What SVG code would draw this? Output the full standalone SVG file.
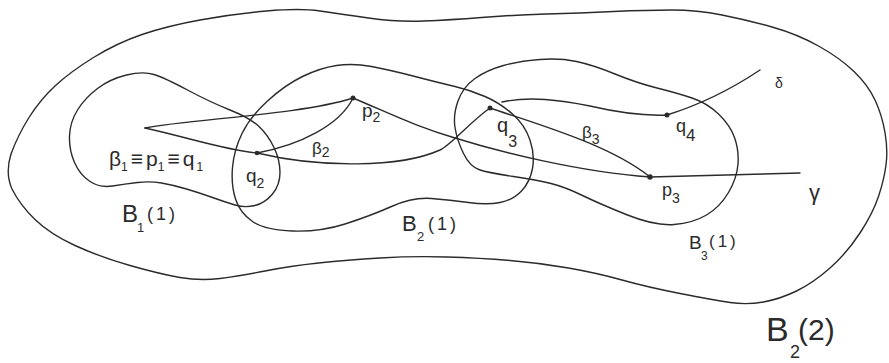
<svg xmlns="http://www.w3.org/2000/svg" width="889" height="363" viewBox="0 0 889 363">
<style>
.c{fill:none;stroke:#2b2b2b;stroke-width:1.4;stroke-linejoin:round;stroke-linecap:round}
.t{font-family:"Liberation Sans",Arial,sans-serif;fill:#2b2b2b}
.d{fill:#2b2b2b}
</style>
<rect width="889" height="363" fill="#ffffff"/>
<g id="B2_2">
<path class="c" d="M12,189 Q5,173 11,154 Q18,135 29,117.5 Q40,100 55,86 Q70,72 93.5,57.5 Q117,43 142,34.5 Q167,26 200,20 Q233,14 266.5,11 Q300,8 320,11 Q340,14 368.5,18 Q397,22 423.5,21 Q450,20 481.5,17.5 Q513,15 546.5,14 Q580,13 613.5,11.5 Q647,10 672,10 Q697,10 722,15 Q747,20 772,27 Q797,34 818.5,46 Q840,58 854,71.5 Q868,85 875,100 Q882,115 885,132.5 Q888,150 886,165 Q884,180 878.5,196.5 Q873,213 860,233 Q847,253 830,268 Q813,283 796.5,291 Q780,299 763.5,302 Q747,305 730,302.5 Q713,300 680,293.5 Q647,287 622,280 Q597,273 568.5,268 Q540,263 510,260.5 Q480,258 446.5,257 Q413,256 380,258 Q347,260 318.5,263 Q290,266 265,271 Q240,276 220,278.5 Q200,281 180,277.5 Q160,274 130,265.5 Q100,257 75,245.5 Q50,234 35,219.5 Q20,205 12,189 Z"/>
<text class="t" x="766" y="341" font-size="34">B</text>
<text class="t" x="790" y="358" font-size="18">2</text>
<text class="t" x="798" y="340" font-size="30">(2)</text>
</g>
<g id="B1_1">
<path class="c" d="M126.5,75 Q143,71 154,74.5 Q165,78 187.5,90 Q210,102 230,110 Q250,118 259,126.5 Q268,135 274,147.5 Q280,160 280,172.5 Q280,185 272.5,194 Q265,203 255,205.5 Q245,208 235,205 Q225,202 212.5,197.5 Q200,193 186.5,189 Q173,185 161.5,183 Q150,181 137.5,182.5 Q125,184 112.5,186 Q100,188 90,181.5 Q80,175 74.5,162.5 Q69,150 69.5,136 Q70,122 77.5,110 Q85,98 97.5,88.5 Q110,79 126.5,75 Z"/>
<text class="t" x="122" y="222" font-size="24">B</text>
<text class="t" x="137" y="232" font-size="13">1</text>
<text class="t" x="147" y="220" font-size="18" letter-spacing="3">(1)</text>
</g>
<g id="B2_1">
<path class="c" d="M336.5,65.5 Q353,63 371.5,66.5 Q390,70 415,76.5 Q440,83 455,86.5 Q470,90 485,96.5 Q500,103 512.5,114 Q525,125 530,140 Q535,155 532.5,168.5 Q530,182 521.5,191 Q513,200 500,202.5 Q487,205 468.5,202.5 Q450,200 431.5,198.5 Q413,197 391.5,206.5 Q370,216 345,224 Q320,232 292.5,231 Q265,230 252.5,221.5 Q240,213 235.5,199 Q231,185 232.5,167.5 Q234,150 242,133.5 Q250,117 267.5,101 Q285,85 302.5,76.5 Q320,68 336.5,65.5 Z"/>
<text class="t" x="402" y="231" font-size="22">B</text>
<text class="t" x="417" y="241" font-size="13">2</text>
<text class="t" x="428" y="230" font-size="18" letter-spacing="3">(1)</text>
</g>
<g id="B3_1">
<path class="c" d="M458,101 Q463,87 475,78.5 Q487,70 503.5,65.5 Q520,61 540,59.5 Q560,58 576.5,61.5 Q593,65 615,74 Q637,83 657,88 Q677,93 692,98 Q707,103 718.5,114 Q730,125 734.5,137.5 Q739,150 738,164 Q737,178 728.5,192.5 Q720,207 706.5,215 Q693,223 674,224.5 Q655,226 627.5,215 Q600,204 582.5,195.5 Q565,187 551,183.5 Q537,180 513.5,176.5 Q490,173 480,170 Q470,167 463.5,153.5 Q457,140 455,127.5 Q453,115 458,101 Z"/>
<text class="t" x="689" y="249" font-size="19">B</text>
<text class="t" x="701" y="260" font-size="12">3</text>
<text class="t" x="709" y="247" font-size="17" letter-spacing="3">(1)</text>
</g>
<g id="connectors">
<path id="p1-p2" class="c" d="M145,128 C190,119 300,115 353,98"/>
<path id="p2-p3-gamma" class="c" d="M353,98 C400,118 420,128 455,138 C500,152 580,172 650,177 L800,173"/>
<path id="p1-q2-q3" class="c" d="M145,128 C190,138 225,150 257,153 C320,168 400,168 440,150 C452,144 470,122 490,108"/>
<path id="beta2" class="c" d="M257,153 C300,145 340,125 353,98"/>
<path id="beta3" class="c" d="M490,108 C540,125 610,145 650,177"/>
<path id="q3-q4" class="c" d="M502,102 C530,96 560,100 590,106 C620,113 645,116 667,115"/>
<path id="delta" class="c" d="M667,115 Q715,100 760,70"/>
</g>
<g id="p1">
<text class="t" x="109" y="166" font-size="21">β<tspan font-size="12" dy="5">1</tspan><tspan dy="-5" dx="3">≡</tspan><tspan dx="3">p</tspan><tspan font-size="12" dy="5">1</tspan><tspan dy="-5" dx="3">≡</tspan><tspan dx="3">q</tspan><tspan font-size="12" dy="5" dx="2">1</tspan></text>
</g>
<g id="q2">
<circle class="d" cx="257" cy="153" r="2.3"/>
<text class="t" x="246" y="182" font-size="19">q<tspan font-size="14" dy="6">2</tspan></text>
</g>
<g id="p2">
<circle class="d" cx="353" cy="98" r="2.5"/>
<text class="t" x="362" y="117" font-size="19">p<tspan font-size="14" dy="5">2</tspan></text>
</g>
<g id="q3">
<circle class="d" cx="490" cy="108" r="2.5"/>
<text class="t" x="497" y="132" font-size="20">q<tspan font-size="16" dy="15">3</tspan></text>
</g>
<g id="q4">
<circle class="d" cx="667" cy="115" r="2.5"/>
<text class="t" x="676" y="132" font-size="18">q<tspan font-size="17" dy="9">4</tspan></text>
</g>
<g id="p3">
<circle class="d" cx="650" cy="177" r="2.7"/>
<text class="t" x="662" y="196" font-size="18">p<tspan font-size="14" dy="7">3</tspan></text>
</g>
<g id="labels">
<text class="t" x="312" y="154" font-size="17">β<tspan font-size="14" dy="3">2</tspan></text>
<text class="t" x="582" y="138" font-size="17">β<tspan font-size="14" dy="6">3</tspan></text>
<text class="t" x="809" y="200" font-size="22">γ</text>
<text class="t" x="775" y="88" font-size="14">δ</text>
</g>
</svg>
